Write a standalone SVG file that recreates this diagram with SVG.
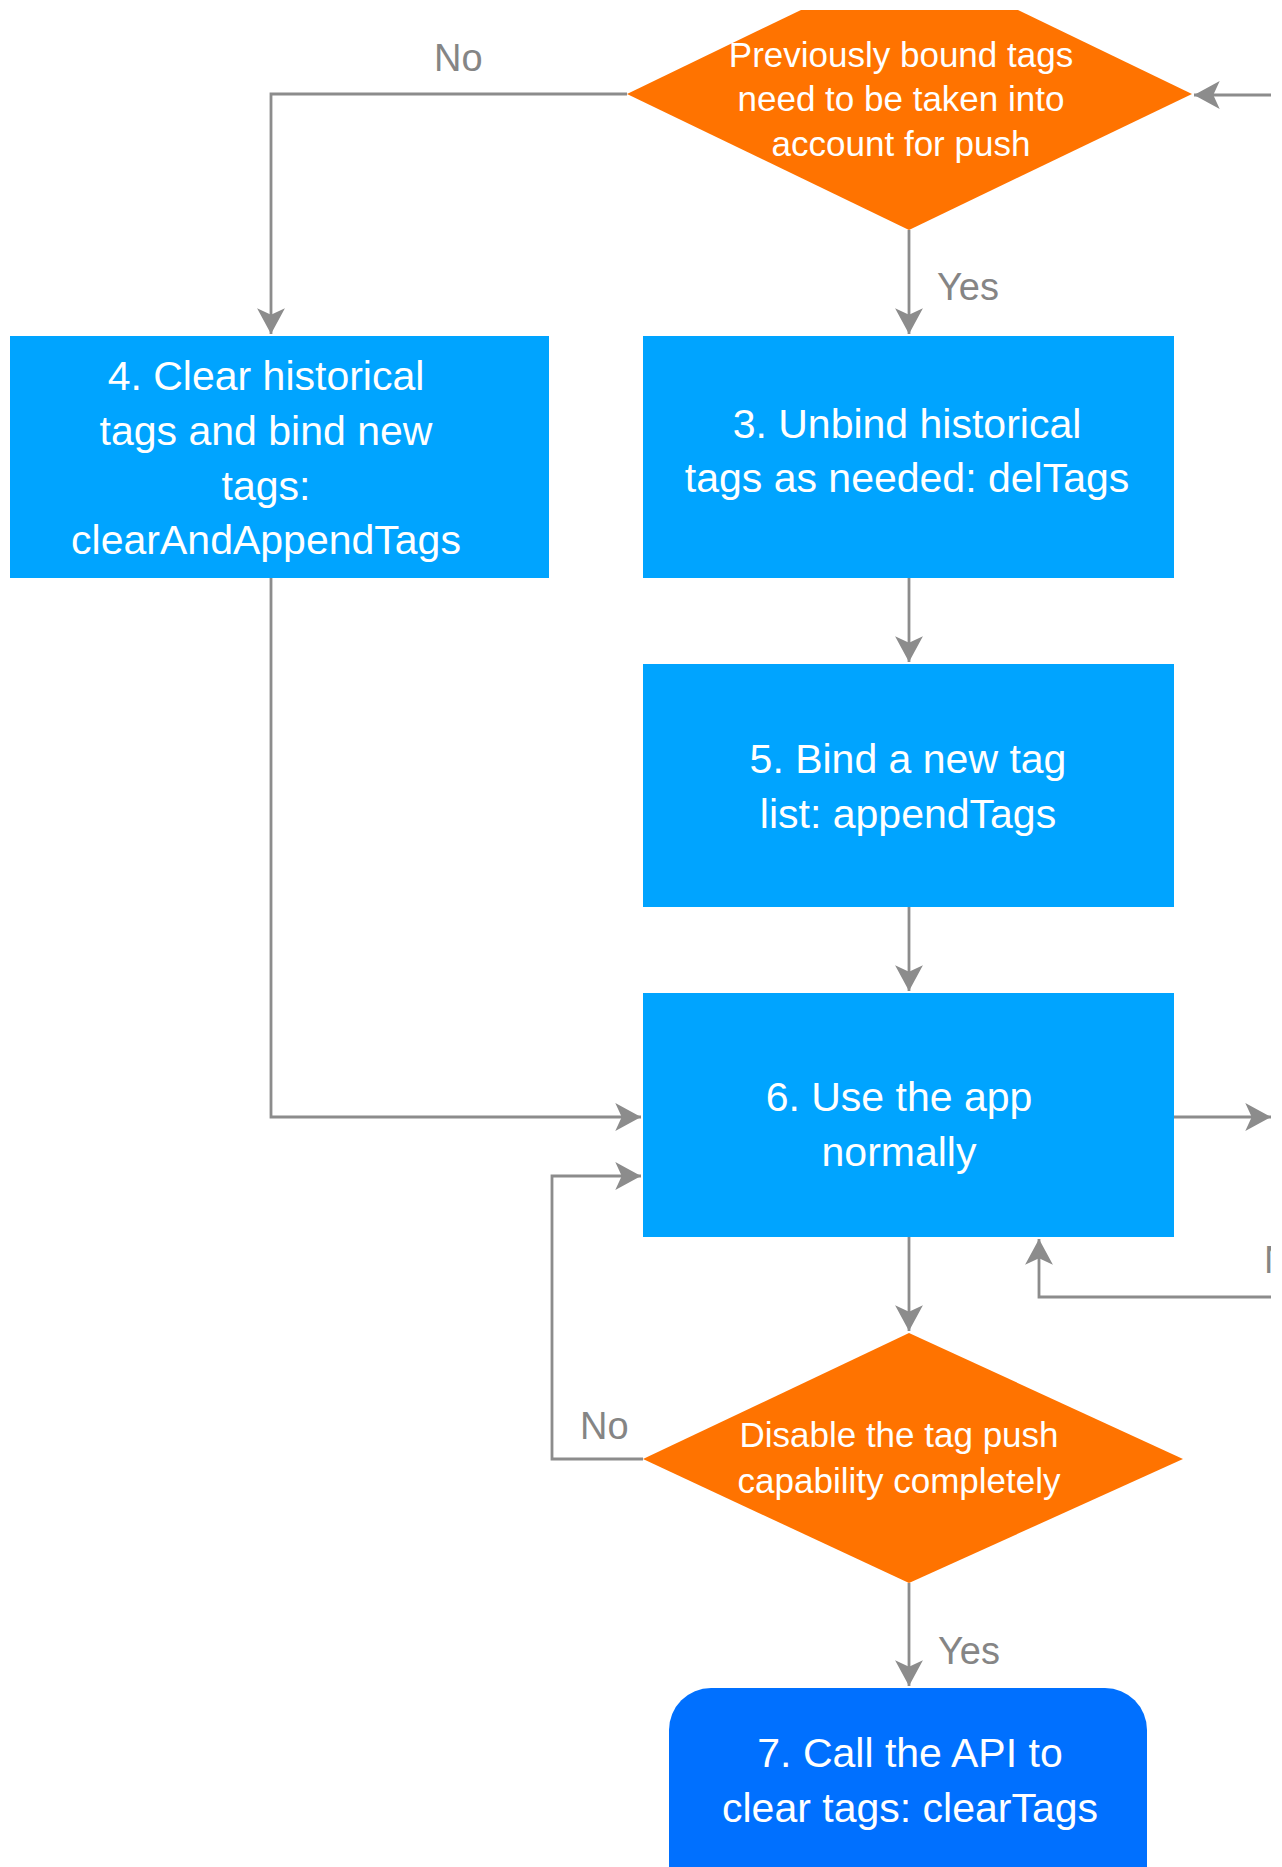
<svg xmlns="http://www.w3.org/2000/svg" width="1282" height="1867" viewBox="0 0 1282 1867">
<style>
.box{fill:#00A4FF}
.dia{fill:#FF7300}
.api{fill:#0070FF}
.t{font-family:"Liberation Sans",Arial,sans-serif;fill:#FFFFFF;text-anchor:middle}
.bt{font-size:41px}
.dt{font-size:35px}
.lbl{font-family:"Liberation Sans",Arial,sans-serif;font-size:38px;fill:#858585}
.c{fill:none;stroke:#8C8C8C;stroke-width:2.8}
</style>
<defs>
<marker id="ah" markerUnits="userSpaceOnUse" markerWidth="30" markerHeight="30" viewBox="-25 -14 27 28" refX="0" refY="0" orient="auto">
<path d="M0,0 L-24,-13 L-18,0 L-24,13 Z" fill="#8C8C8C"/>
</marker>
<clipPath id="edge"><rect x="0" y="0" width="1271" height="1867"/></clipPath>
</defs>
<rect width="1282" height="1867" fill="#FFFFFF"/>
<g id="connectors">
<path class="c" d="M627,94 H271 V334" marker-end="url(#ah)"/>
<path class="c" d="M909,230 V334" marker-end="url(#ah)"/>
<path class="c" d="M1271,95 H1194" marker-end="url(#ah)"/>
<path class="c" d="M909,578 V662" marker-end="url(#ah)"/>
<path class="c" d="M909,907 V991" marker-end="url(#ah)"/>
<path class="c" d="M271,578 V1117 H641" marker-end="url(#ah)"/>
<path class="c" d="M1174,1117 H1271" marker-end="url(#ah)"/>
<path class="c" d="M1271,1297 H1039 V1239" marker-end="url(#ah)"/>
<path class="c" d="M909,1237 V1331" marker-end="url(#ah)"/>
<path class="c" d="M643,1459 H552 V1176 H641" marker-end="url(#ah)"/>
<path class="c" d="M909,1583 V1686" marker-end="url(#ah)"/>
<text class="lbl" x="434" y="71">No</text>
<text class="lbl" x="937" y="300">Yes</text>
<text class="lbl" x="580" y="1439">No</text>
<text class="lbl" x="938" y="1664">Yes</text>
<text class="lbl" x="1264" y="1273" clip-path="url(#edge)">No</text>
</g>
<g id="decision1">
<polygon class="dia" points="627,94 801,10 1018,10 1192,94 909,230"/>
<text class="t dt" x="901" y="67">Previously bound tags</text>
<text class="t dt" x="901" y="111">need to be taken into</text>
<text class="t dt" x="901" y="156">account for push</text>
</g>
<g id="step4">
<rect class="box" x="10" y="336" width="539" height="242"/>
<text class="t bt" x="266" y="390">4. Clear historical</text>
<text class="t bt" x="266" y="445">tags and bind new</text>
<text class="t bt" x="266" y="500">tags:</text>
<text class="t bt" x="266" y="554">clearAndAppendTags</text>
</g>
<g id="step3">
<rect class="box" x="643" y="336" width="531" height="242"/>
<text class="t bt" x="907" y="438">3. Unbind historical</text>
<text class="t bt" x="907" y="492">tags as needed: delTags</text>
</g>
<g id="step5">
<rect class="box" x="643" y="664" width="531" height="243"/>
<text class="t bt" x="908" y="773">5. Bind a new tag</text>
<text class="t bt" x="908" y="828">list: appendTags</text>
</g>
<g id="step6">
<rect class="box" x="643" y="993" width="531" height="244"/>
<text class="t bt" x="899" y="1111">6. Use the app</text>
<text class="t bt" x="899" y="1166">normally</text>
</g>
<g id="decision2">
<polygon class="dia" points="909,1333 1183,1459 909,1583 643,1459"/>
<text class="t dt" x="899" y="1447">Disable the tag push</text>
<text class="t dt" x="899" y="1493">capability completely</text>
</g>
<g id="step7">
<rect class="api" x="669" y="1688" width="478" height="230" rx="42" ry="42"/>
<text class="t bt" x="910" y="1767">7. Call the API to</text>
<text class="t bt" x="910" y="1822">clear tags: clearTags</text>
</g>
</svg>
